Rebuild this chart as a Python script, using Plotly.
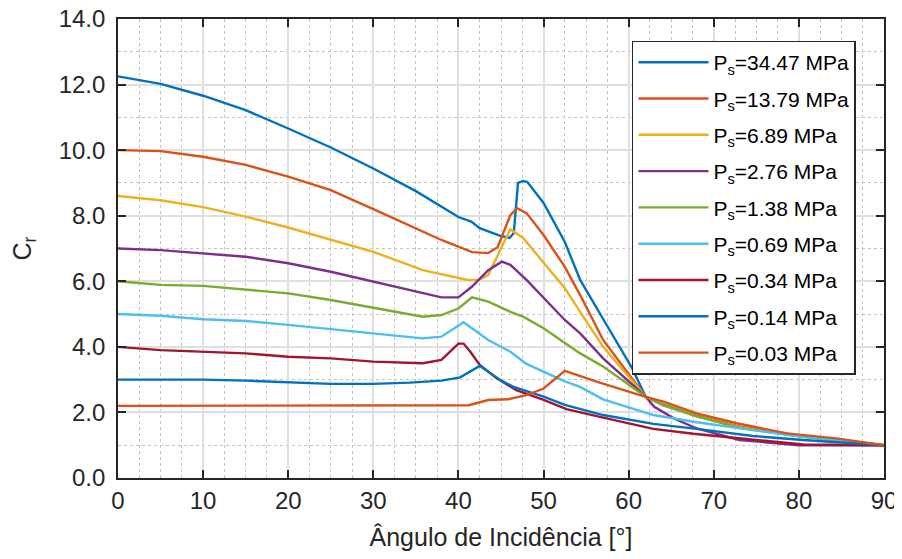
import plotly.graph_objects as go

# ---------------- data ----------------
names = ["P<sub>s</sub>=34.47 MPa", "P<sub>s</sub>=13.79 MPa", "P<sub>s</sub>=6.89 MPa",
         "P<sub>s</sub>=2.76 MPa", "P<sub>s</sub>=1.38 MPa", "P<sub>s</sub>=0.69 MPa",
         "P<sub>s</sub>=0.34 MPa", "P<sub>s</sub>=0.14 MPa", "P<sub>s</sub>=0.03 MPa"]

x_3447 = [0, 5, 10, 15, 20, 25, 30, 35, 40, 41.5, 42.5, 45, 46, 46.5, 47, 47.6, 48.1, 50, 52.5, 54.3, 57, 60.4, 62, 64, 68, 73, 80, 85, 90]
y_3447 = [12.25, 12.02, 11.66, 11.22, 10.66, 10.08, 9.44, 8.75, 7.96, 7.82, 7.62, 7.38, 7.32, 7.47, 9.0, 9.06, 9.03, 8.39, 7.2, 6.04, 4.85, 3.35, 2.48, 2.22, 1.88, 1.55, 1.28, 1.15, 1.0]

x_1379 = [0, 5, 10, 15, 20, 25, 30, 35, 38, 41.6, 43.5, 44.6, 46.1, 46.9, 48, 50, 52.5, 54.3, 57, 62, 64, 68, 73, 80, 85, 90]
y_1379 = [10.0, 9.97, 9.8, 9.55, 9.19, 8.78, 8.2, 7.6, 7.26, 6.89, 6.86, 7.04, 8.02, 8.23, 8.08, 7.41, 6.44, 5.58, 4.21, 2.48, 2.25, 1.9, 1.57, 1.3, 1.16, 1.0]

x_689 = [0, 5, 10, 15, 20, 25, 30, 35.8, 40, 41.1, 42.3, 43.5, 44.9, 46.1, 47.6, 50, 52.5, 54.3, 57, 62, 64, 68, 73, 80, 85, 90]
y_689 = [8.6, 8.47, 8.26, 7.97, 7.64, 7.28, 6.9, 6.34, 6.12, 6.04, 6.04, 6.19, 6.95, 7.59, 7.32, 6.56, 5.79, 5.07, 4.0, 2.48, 2.24, 1.88, 1.55, 1.28, 1.15, 1.0]

x_276 = [0, 5, 15, 20, 25, 30, 35.8, 38, 40, 41.6, 43.5, 45.1, 46.1, 48, 52.5, 54.3, 57, 62, 63, 65.3, 68, 73, 80, 90]
y_276 = [7.0, 6.95, 6.75, 6.55, 6.29, 5.99, 5.63, 5.51, 5.51, 5.84, 6.34, 6.6, 6.5, 6.04, 4.82, 4.41, 3.65, 2.48, 2.17, 1.82, 1.51, 1.16, 1.0, 1.0]

x_138 = [0, 5, 10, 20, 25, 30, 35.8, 38, 40, 41.6, 43.5, 46.1, 47.6, 50, 54.3, 57, 62, 64, 68, 73, 80, 85, 90]
y_138 = [6.0, 5.89, 5.86, 5.63, 5.43, 5.2, 4.92, 4.97, 5.17, 5.51, 5.38, 5.07, 4.92, 4.57, 3.8, 3.4, 2.48, 2.25, 1.89, 1.53, 1.27, 1.14, 1.0]

x_069 = [0, 5, 10, 15, 20, 30, 35.8, 38, 40.6, 43.5, 46.1, 48, 52.5, 54.3, 57, 62.9, 68, 74.6, 80.5, 90]
y_069 = [5.0, 4.95, 4.84, 4.79, 4.67, 4.41, 4.26, 4.31, 4.75, 4.21, 3.85, 3.48, 2.95, 2.78, 2.4, 1.92, 1.7, 1.46, 1.26, 1.0]

x_034 = [0, 5, 15, 20, 25, 30, 35.8, 38, 40, 40.6, 41.4, 42.5, 44.5, 46.8, 50, 52.7, 57, 62.9, 67.6, 74.6, 80.5, 90]
y_034 = [4.0, 3.9, 3.8, 3.7, 3.65, 3.55, 3.5, 3.6, 4.1, 4.1, 3.85, 3.45, 3.04, 2.68, 2.38, 2.1, 1.84, 1.5, 1.35, 1.17, 1.02, 1.0]

x_014 = [0, 10, 15, 20, 25, 30, 34.3, 38, 40.2, 42.5, 44.9, 46.4, 50, 52.5, 57, 62.9, 68, 74.6, 80.5, 90]
y_014 = [3.0, 3.0, 2.97, 2.91, 2.87, 2.87, 2.91, 2.97, 3.07, 3.42, 2.99, 2.79, 2.48, 2.23, 1.92, 1.65, 1.5, 1.28, 1.16, 1.0]

x_003 = [0, 40.5, 41.2, 43.5, 45.8, 48, 50, 52.5, 56.6, 61.9, 64.1, 68, 72.7, 78.6, 84.4, 90]
y_003 = [2.2, 2.2, 2.22, 2.38, 2.4, 2.53, 2.73, 3.27, 2.91, 2.48, 2.33, 1.97, 1.67, 1.36, 1.21, 1.0]

xs = [x_3447, x_1379, x_689, x_276, x_138, x_069, x_034, x_014, x_003]
ys = [y_3447, y_1379, y_689, y_276, y_138, y_069, y_034, y_014, y_003]

colors = ["#0072BD", "#D95319", "#EDB120", "#7E2F8E", "#77AC30",
          "#4DBEEE", "#A2142F", "#0072BD", "#D95319"]

x_ticks = [0, 10, 20, 30, 40, 50, 60, 70, 80, 90]
y_ticks = [0, 2, 4, 6, 8, 10, 12, 14]

# ---------------- figure ----------------
FONT = "Liberation Sans, Arial, Helvetica, sans-serif"
AX = "#262626"

fig = go.Figure()
for i, (xv, yv) in enumerate(zip(xs, ys)):
    fig.add_trace(go.Scatter(x=xv, y=yv, mode="lines", name=names[i],
                             legendgroup="g%d" % i,
                             line=dict(color=colors[i], width=2.4)))

# the page body adds an 8px offset; the figure is sized to compensate
fig.update_layout(
    width=894, height=551,
    margin=dict(l=110, r=18, t=11, b=81, autoexpand=False),
    paper_bgcolor="white", plot_bgcolor="white",
    font=dict(family=FONT, color=AX, size=24),
    showlegend=True,
    legend=dict(x=0.671, y=0.953, xanchor="left", yanchor="top",
                bgcolor="white", bordercolor=AX, borderwidth=1.5,
                font=dict(family=FONT, size=21, color="#000000"),
                tracegroupgap=6, itemwidth=70),
)

fig.update_xaxes(
    range=[0, 90], tickvals=x_ticks, ticktext=[str(v) for v in x_ticks],
    automargin=False, ticklabeloverflow="allow",
    showline=True, linecolor=AX, linewidth=1.6, mirror="ticks",
    ticks="inside", ticklen=8, tickcolor=AX, tickwidth=1.6,
    showgrid=True, gridcolor="#dfdfdf", gridwidth=1.5,
    zeroline=False,
    tickfont=dict(family=FONT, size=24, color=AX),
    title=dict(text="Ângulo de Incidência [°]", standoff=16,
               font=dict(family=FONT, size=25, color=AX)),
    minor=dict(dtick=2.5, showgrid=True, griddash="dot",
               gridcolor="#c4c4c4", gridwidth=1, ticks=""),
)
fig.update_yaxes(
    range=[0, 14], tickvals=y_ticks, ticktext=["%.1f" % v for v in y_ticks],
    automargin=False, ticklabeloverflow="allow",
    showline=True, linecolor=AX, linewidth=1.6, mirror="ticks",
    ticks="inside", ticklen=8, tickcolor=AX, tickwidth=1.6,
    showgrid=True, gridcolor="#dfdfdf", gridwidth=1.5,
    zeroline=False,
    tickfont=dict(family=FONT, size=24, color=AX),
    ticklabelstandoff=6,
    title=dict(text="C<sub>r</sub>", standoff=21,
               font=dict(family=FONT, size=25, color=AX)),
    minor=dict(dtick=1, showgrid=True, griddash="dot",
               gridcolor="#c4c4c4", gridwidth=1, ticks=""),
)

fig.write_html("out.html")
